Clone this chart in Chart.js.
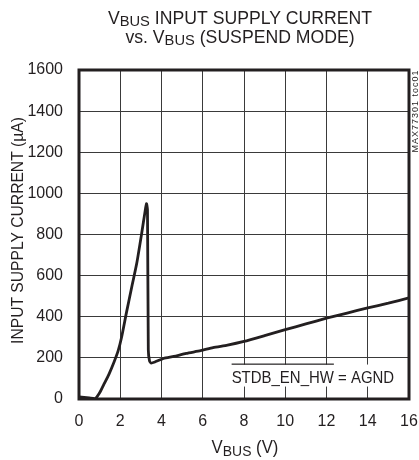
<!DOCTYPE html>
<html>
<head>
<meta charset="utf-8">
<script src="https://cdn.jsdelivr.net/npm/chart.js@4.4.0/dist/chart.umd.min.js"></script>
<style>
html,body{margin:0;padding:0;background:#fff;}
#wrap{position:relative;width:419px;height:460px;}
</style>
</head>
<body>
<div id="wrap"><canvas id="c" width="419" height="460"></canvas></div>
<script>
// ---- data ----
const vbusVolts = [0, 0.5, 0.8, 1.0, 1.2, 1.45, 1.7, 1.9, 2.07, 2.3, 2.56, 2.8, 3.04, 3.2, 3.27, 3.32, 3.36, 3.42, 3.5, 3.7, 4.1, 4.6, 5.2, 5.9, 6.5, 7.2, 8.0, 9.0, 10.0, 11.0, 12.0, 13.0, 14.0, 15.0, 16.0];
const supplyCurrent = [10, 5, 3, 30, 70, 120, 180, 235, 303, 420, 546, 660, 806, 910, 950, 920, 240, 185, 175, 181, 197, 207, 222, 235, 250, 262, 280, 308, 337, 365, 393, 418, 443, 466, 492];
const xTicks = [0, 2, 4, 6, 8, 10, 12, 14, 16];
const yTicks = [0, 200, 400, 600, 800, 1000, 1200, 1400, 1600];
const titleLine1 = ["V", "BUS", " INPUT SUPPLY CURRENT"];
const titleLine2 = ["vs. V", "BUS", " (SUSPEND MODE)"];
const xTitle = ["V", "BUS", " (V)"];
const yTitle = "INPUT SUPPLY CURRENT (µA)";
const noteBar = "STDB_EN_HW";
const noteRest = " = AGND";
const watermark = "MAX77301 toc01";

const FONT = '"Liberation Sans", Arial, sans-serif';
const INK = '#231f20';

function drawSub(ctx, parts, cx, y, size, subSize, subDrop, sx) {
  ctx.save();
  ctx.translate(cx, y);
  ctx.scale(sx, 1);
  ctx.font = size + 'px ' + FONT;
  const w0 = ctx.measureText(parts[0]).width;
  const w2 = ctx.measureText(parts[2]).width;
  ctx.font = subSize + 'px ' + FONT;
  const w1 = ctx.measureText(parts[1]).width;
  let x = -(w0 + w1 + w2) / 2;
  ctx.textAlign = 'left';
  ctx.textBaseline = 'alphabetic';
  ctx.font = size + 'px ' + FONT;
  ctx.fillText(parts[0], x, 0); x += w0;
  ctx.font = subSize + 'px ' + FONT;
  ctx.fillText(parts[1], x, subDrop); x += w1;
  ctx.font = size + 'px ' + FONT;
  ctx.fillText(parts[2], x, 0);
  ctx.restore();
}

const textPlugin = {
  id: 'texts',
  afterDraw(chart) {
    const ctx = chart.ctx;
    const a = chart.chartArea;
    const xs = chart.scales.x, ys = chart.scales.y;
    ctx.save();
    ctx.fillStyle = INK;
    // title
    drawSub(ctx, titleLine1, 240, 23.5, 18, 15, 2.5, 0.98);
    drawSub(ctx, titleLine2, 240, 42.5, 18, 15, 2.5, 0.98);
    // x title
    drawSub(ctx, xTitle, 245, 453, 18, 15, 2.5, 0.93);
    // y title
    ctx.save();
    ctx.translate(23, (a.top + a.bottom) / 2 - 4);
    ctx.rotate(-Math.PI / 2);
    ctx.scale(0.92, 1);
    ctx.font = '17px ' + FONT;
    ctx.textAlign = 'center';
    ctx.textBaseline = 'alphabetic';
    ctx.fillText(yTitle, 0, 0);
    ctx.restore();
    // annotation
    ctx.save();
    const nx = xs.getPixelForValue(7.4);
    const nyBase = ys.getPixelForValue(80);
    ctx.font = '17px ' + FONT;
    const sx = 0.88;
    const wb = ctx.measureText(noteBar).width * sx;
    const wr = ctx.measureText(noteRest).width * sx;
    ctx.fillStyle = '#fff';
    ctx.fillRect(nx - 2, nyBase - 18, wb + wr + 4, 22);
    ctx.fillStyle = INK;
    ctx.translate(nx, nyBase);
    ctx.scale(sx, 1);
    ctx.textAlign = 'left';
    ctx.textBaseline = 'alphabetic';
    ctx.fillText(noteBar + noteRest, 0, 0);
    ctx.restore();
    ctx.fillStyle = INK;
    ctx.fillRect(nx, nyBase - 19, wb, 1.2);
    // watermark
    ctx.save();
    ctx.translate(416, 111);
    ctx.rotate(-Math.PI / 2);
    ctx.font = '9px ' + FONT;
    ctx.letterSpacing = '1px';
    ctx.textAlign = 'center';
    ctx.textBaseline = 'middle';
    ctx.fillText(watermark, 0, 0);
    ctx.restore();
    // frame
    ctx.strokeStyle = INK;
    ctx.lineWidth = 3;
    ctx.strokeRect(a.left, a.top, a.right - a.left, a.bottom - a.top);
    ctx.restore();
  }
};

const points = vbusVolts.map((v, i) => ({x: v, y: supplyCurrent[i]}));

new Chart(document.getElementById('c'), {
  type: 'line',
  data: {
    datasets: [{
      data: points,
      borderColor: INK,
      borderWidth: 2.8,
      pointRadius: 0,
      tension: 0.2,
      fill: false
    }]
  },
  options: {
    responsive: false,
    animation: false,
    events: [],
    layout: {padding: {left: 0, right: 10, top: 70, bottom: 0}},
    plugins: {legend: {display: false}, tooltip: {enabled: false}, title: {display: false}},
    scales: {
      x: {
        type: 'linear', min: 0, max: 16,
        afterBuildTicks(s) { s.ticks = xTicks.map(v => ({value: v})); },
        afterFit(s) { s.height = 61; s.paddingLeft = 0; s.paddingRight = 0; },
        grid: {color: '#3a3a3a', lineWidth: 1, drawTicks: false},
        border: {display: false},
        ticks: {color: INK, font: {size: 16, family: FONT}, padding: 13, maxRotation: 0, autoSkip: false,
                callback: v => String(v)}
      },
      y: {
        type: 'linear', min: 0, max: 1600,
        afterBuildTicks(s) { s.ticks = yTicks.map(v => ({value: v})); },
        afterFit(s) { s.width = 79; s.paddingTop = 0; s.paddingBottom = 0; },
        grid: {color: '#3a3a3a', lineWidth: 1, drawTicks: false},
        border: {display: false},
        ticks: {color: INK, font: {size: 16, family: FONT}, padding: 16, autoSkip: false,
                callback: v => String(v)}
      }
    }
  },
  plugins: [textPlugin]
});
</script>
</body>
</html>
